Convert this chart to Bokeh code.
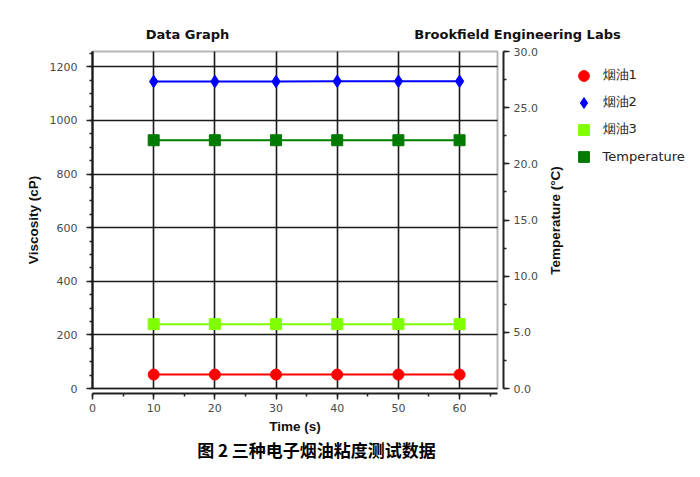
import math
from bokeh.plotting import figure
from bokeh.models import (Range1d, LinearAxis, SingleIntervalTicker, Legend, LegendItem,
                          NumeralTickFormatter, ColumnDataSource, Label, BoxAnnotation)
from bokeh.embed import file_html
from bokeh.resources import INLINE

# ---- data ----
time_s = [10, 20, 30, 40, 50, 60]
oil1 = [52, 52, 52, 52, 52, 52]
oil2 = [1145, 1145, 1145, 1146, 1146, 1146]
oil3 = [240, 240, 240, 240, 240, 240]
temperature = [22.1, 22.1, 22.1, 22.1, 22.1, 22.1]
series_names = ["烟油1", "烟油2", "烟油3", "Temperature"]
header_texts = ["Data Graph", "Brookfield Engineering Labs"]
caption_text = "图 2 三种电子烟油粘度测试数据"
x_title, y_title, t_title = "Time (s)", "Viscosity (cP)", "Temperature (°C)"

# ---- layout constants (pixels) ----
W, H = 700, 477
BOX_L, BOX_R, BOX_T, BOX_B = 92, 497, 51, 388
X_END, Y_END, T_END = 66.2, 1257, 30
TICK_FONT = "DejaVu Sans"
LABEL_FONT = "Liberation Sans"

sx = (BOX_R - BOX_L) / X_END
sy = (BOX_B - BOX_T) / Y_END
st = (BOX_B - BOX_T) / T_END

p = figure(width=W, height=H, output_backend="svg", toolbar_location=None,
           x_range=Range1d(-BOX_L / sx, (W - BOX_L) / sx),
           y_range=Range1d(-(H - BOX_B) / sy, Y_END + BOX_T / sy),
           min_border=0, background_fill_color="white", border_fill_color="white")
p.extra_y_ranges = {"temp": Range1d(-(H - BOX_B) / st, T_END + BOX_T / st)}
p.outline_line_color = None


def style_axis(ax):
    ax.major_label_text_font = TICK_FONT
    ax.major_label_text_font_size = "11px"
    ax.major_label_text_color = "#4a4a4a"
    ax.axis_line_color = "#222222"
    ax.axis_line_width = 2
    ax.major_tick_line_color = "#222222"
    ax.minor_tick_line_color = "#222222"
    ax.major_tick_line_width = 1.5
    ax.minor_tick_line_width = 1.5
    ax.major_tick_out = 6
    ax.major_tick_in = 0
    ax.minor_tick_out = 3
    ax.minor_tick_in = 0
    ax.axis_label_text_font = LABEL_FONT
    ax.axis_label_text_font_style = "bold"
    ax.axis_label_text_font_size = "13.5px"
    ax.axis_label_text_color = "#111111"


# x axis, slightly below the plot box
xa = p.xaxis[0]
xa.ticker = SingleIntervalTicker(interval=10, num_minor_ticks=2)
xa.bounds = (0, X_END)
xa.fixed_location = -5 / sy
xa.axis_label = x_title
style_axis(xa)
xa.major_label_standoff = 4
xa.axis_label_standoff = 4

# left viscosity axis
ya = p.yaxis[0]
ya.ticker = SingleIntervalTicker(interval=200, num_minor_ticks=4)
ya.bounds = (0, Y_END)
ya.fixed_location = 0
ya.axis_label = y_title
style_axis(ya)
ya.major_label_standoff = 9
ya.axis_label_standoff = 6

# right temperature axis, slightly right of the plot box
ra = LinearAxis(y_range_name="temp",
                ticker=SingleIntervalTicker(interval=5, num_minor_ticks=2),
                formatter=NumeralTickFormatter(format="0.0"))
ra.bounds = (0, T_END)
ra.fixed_location = X_END + 6 / sx
style_axis(ra)
ra.major_label_standoff = 4
p.add_layout(ra, "right")

# grid limited to the plot box
xg, yg = p.xgrid[0], p.ygrid[0]
for g in (xg, yg):
    g.grid_line_color = "#1a1a1a"
    g.grid_line_width = 1.6
if hasattr(xg, "cross_bounds"):
    xg.cross_bounds = (0, Y_END)
    yg.cross_bounds = (0, X_END)
else:
    xg.visible = False
    yg.visible = False
    gx = [10, 20, 30, 40, 50, 60]
    gy = [200, 400, 600, 800, 1000, 1200]
    p.segment(x0=gx, y0=[0] * len(gx), x1=gx, y1=[Y_END] * len(gx),
              line_color="#1a1a1a", line_width=1.6)
    p.segment(x0=[0] * len(gy), y0=gy, x1=[X_END] * len(gy), y1=gy,
              line_color="#1a1a1a", line_width=1.6)

# plot box outline
p.add_layout(BoxAnnotation(left=0, right=X_END, bottom=0, top=Y_END,
                           fill_color=None, line_color="#111111", line_width=2))

# ---- series ----
src = ColumnDataSource(dict(t=time_s, o1=oil1, o2=oil2, o3=oil3, temp=temperature))

p.line("t", "o1", source=src, color="#ff0000", line_width=2)
r1 = p.scatter("t", "o1", source=src, marker="circle", size=11, color="#ff0000")

p.line("t", "o2", source=src, color="#0000ff", line_width=2)
r2 = p.scatter("t", "o2", source=src, marker="diamond", size=12.5, color="#0000ff")

p.line("t", "o3", source=src, color="#7cfc00", line_width=2)
r3 = p.scatter("t", "o3", source=src, marker="square", size=11, color="#80ff00")

p.line("t", "temp", source=src, color="#008000", line_width=2, y_range_name="temp")
r4 = p.scatter("t", "temp", source=src, marker="square", size=11, color="#007a00",
               y_range_name="temp")

legend = Legend(items=[LegendItem(label=series_names[0], renderers=[r1]),
                       LegendItem(label=series_names[1], renderers=[r2]),
                       LegendItem(label=series_names[2], renderers=[r3]),
                       LegendItem(label=series_names[3], renderers=[r4])],
                location=(569.5, H - 169.5), orientation="vertical",
                glyph_width=27, glyph_height=27, label_height=27, spacing=0,
                padding=0, margin=0, label_standoff=6,
                border_line_color=None, background_fill_alpha=0,
                label_text_font="DejaVu Sans",
                label_text_font_size="13px", label_text_color="#222222")
p.add_layout(legend)

# ---- texts ----
for txt, cx in zip(header_texts, [187, 517]):
    p.add_layout(Label(x=cx, y=H - 34, x_units="screen", y_units="screen", text=txt,
                       text_font="DejaVu Sans", text_font_style="bold", text_font_size="13px",
                       text_align="center", text_baseline="middle", text_color="#111111"))

p.add_layout(Label(x=555, y=H - 220, x_units="screen", y_units="screen", text=t_title,
                   angle=math.pi / 2, text_font=LABEL_FONT, text_font_style="bold",
                   text_font_size="13.5px", text_align="center", text_baseline="middle",
                   text_color="#111111"))

p.add_layout(Label(x=316, y=H - 449, x_units="screen", y_units="screen", text=caption_text,
                   text_font="Noto Sans CJK SC", text_font_style="bold", text_font_size="17px",
                   text_align="center", text_baseline="middle", text_color="#000000"))

open("out.html", "w").write(file_html(p, INLINE))
